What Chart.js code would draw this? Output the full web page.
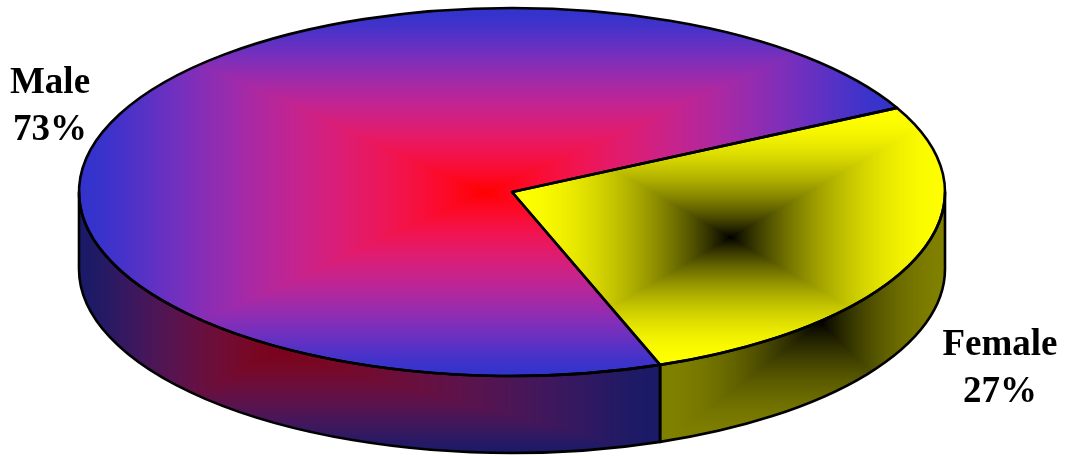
<!DOCTYPE html>
<html>
<head>
<meta charset="utf-8">
<title>Male / Female</title>
<script src="https://cdn.jsdelivr.net/npm/chart.js@4/dist/chart.umd.min.js"></script>
<style>
  html, body { margin: 0; padding: 0; background: #fff; overflow: hidden; }
  canvas { display: block; }
</style>
</head>
<body>
<canvas id="pie" width="1065" height="456"></canvas>
<script>
// values
const categories = ["Male", "Female"];
const shares = [73, 27];

// ===== Geometry of the tilted disc =====
const DISC = { x: 512, y: 192, rx: 433, ry: 184, depth: 77 };
const START_DEG = 160;
const W = 1065, H = 456;

// Rectangular path gradient, mixed in linear light like the original renderer
function boxGradient(box, inner, outer) {
  const cv = document.createElement("canvas");
  cv.width = W; cv.height = H;
  const c = cv.getContext("2d");
  const img = c.createImageData(W, H);
  const lin = v => Math.pow(v / 255, 2.2);
  const srgb = v => Math.round(255 * Math.pow(v, 1 / 2.2));
  const a = inner.map(lin), b = outer.map(lin);
  for (let y = 0; y < H; y++) {
    for (let x = 0; x < W; x++) {
      const tx = x < box.fx ? (box.fx - x) / (box.fx - box.x0) : (x - box.fx) / (box.x1 - box.fx);
      const ty = y < box.fy ? (box.fy - y) / (box.fy - box.y0) : (y - box.fy) / (box.y1 - box.fy);
      const d = Math.min(1, Math.max(tx, ty));
      const t = d * d * (3 - 2 * d);
      const i = (y * W + x) * 4;
      for (let k = 0; k < 3; k++) img.data[i + k] = srgb(a[k] + (b[k] - a[k]) * t);
      img.data[i + 3] = 255;
    }
  }
  c.putImageData(img, 0, 0);
  return c.createPattern(cv, "no-repeat");
}

const ctx0 = document.getElementById("pie").getContext("2d");
const topFills = [
  boxGradient({ fx: 484, fy: 192, x0: 79, x1: 897, y0: 8, y1: 376 }, [255, 0, 0], [51, 51, 204]),
  boxGradient({ fx: 730, fy: 237, x0: 513, x1: 947, y0: 110, y1: 364 }, [0, 0, 0], [255, 255, 0])
];
const wallFills = [
  boxGradient({ fx: 275, fy: 352, x0: 79, x1: 661, y0: 230, y1: 455 }, [122, 4, 30], [26, 26, 102]),
  boxGradient({ fx: 820, fy: 322, x0: 661, x1: 947, y0: 200, y1: 445 }, [0, 0, 0], [128, 128, 0])
];

// Parts of an arc that face the viewer (lower half of the ellipse)
function visibleParts(arc) {
  const out = [];
  for (let k = -1; k <= 1; k++) {
    const lo = Math.max(arc.startAngle, k * 2 * Math.PI);
    const hi = Math.min(arc.endAngle, k * 2 * Math.PI + Math.PI);
    if (hi > lo) out.push([lo, hi]);
  }
  return out;
}
function wallPath(ctx, lo, hi) {
  ctx.beginPath();
  ctx.ellipse(DISC.x, DISC.y, DISC.rx, DISC.ry, 0, lo, hi);
  ctx.ellipse(DISC.x, DISC.y + DISC.depth, DISC.rx, DISC.ry, 0, hi, lo, true);
  ctx.closePath();
}

// ===== Plugin: squash the pie into a disc, add the wall, outlines and labels =====
const discPlugin = {
  id: "disc",
  beforeDatasetsDraw(chart) {
    const ctx = chart.ctx;
    const arcs = chart.getDatasetMeta(0).data;
    arcs.forEach((arc, i) => {
      visibleParts(arc).forEach(([lo, hi]) => {
        wallPath(ctx, lo, hi);
        ctx.fillStyle = wallFills[i];
        ctx.fill();
      });
    });
    const r = arcs[0].outerRadius;
    const m = new DOMMatrix()
      .translate(DISC.x, DISC.y)
      .scale(DISC.rx / r, DISC.ry / r)
      .translate(-arcs[0].x, -arcs[0].y);
    topFills.forEach(p => p.setTransform(m.inverse()));
    ctx.save();
    ctx.setTransform(m);
  },
  afterDatasetsDraw(chart) {
    const ctx = chart.ctx;
    ctx.restore();
    ctx.save();
    ctx.strokeStyle = "#000";
    ctx.lineWidth = 2.6;
    ctx.lineJoin = "round";
    chart.getDatasetMeta(0).data.forEach(arc => {
      visibleParts(arc).forEach(([lo, hi]) => { wallPath(ctx, lo, hi); ctx.stroke(); });
    });
    chart.getDatasetMeta(0).data.forEach(arc => {
      ctx.beginPath();
      ctx.moveTo(DISC.x, DISC.y);
      ctx.ellipse(DISC.x, DISC.y, DISC.rx, DISC.ry, 0, arc.startAngle, arc.endAngle);
      ctx.closePath();
      ctx.stroke();
    });
    ctx.restore();
  },
  afterDraw(chart) {
    const ctx = chart.ctx;
    const spots = [{ x: 50, y: 93 }, { x: 1000, y: 355 }];
    ctx.save();
    ctx.fillStyle = "#000";
    ctx.font = 'bold 37px "Liberation Serif"';
    ctx.textAlign = "center";
    ctx.textBaseline = "alphabetic";
    categories.forEach((name, i) => {
      ctx.fillText(name, spots[i].x, spots[i].y);
      ctx.fillText(shares[i] + "%", spots[i].x, spots[i].y + 47);
    });
    ctx.restore();
  }
};

new Chart(ctx0, {
  type: "pie",
  data: {
    labels: categories,
    datasets: [{ data: shares, backgroundColor: topFills, borderWidth: 0, clip: false }]
  },
  options: {
    responsive: false,
    animation: false,
    rotation: START_DEG,
    events: [],
    layout: { padding: 0 },
    plugins: { legend: { display: false }, tooltip: { enabled: false } }
  },
  plugins: [discPlugin]
});
</script>
</body>
</html>
